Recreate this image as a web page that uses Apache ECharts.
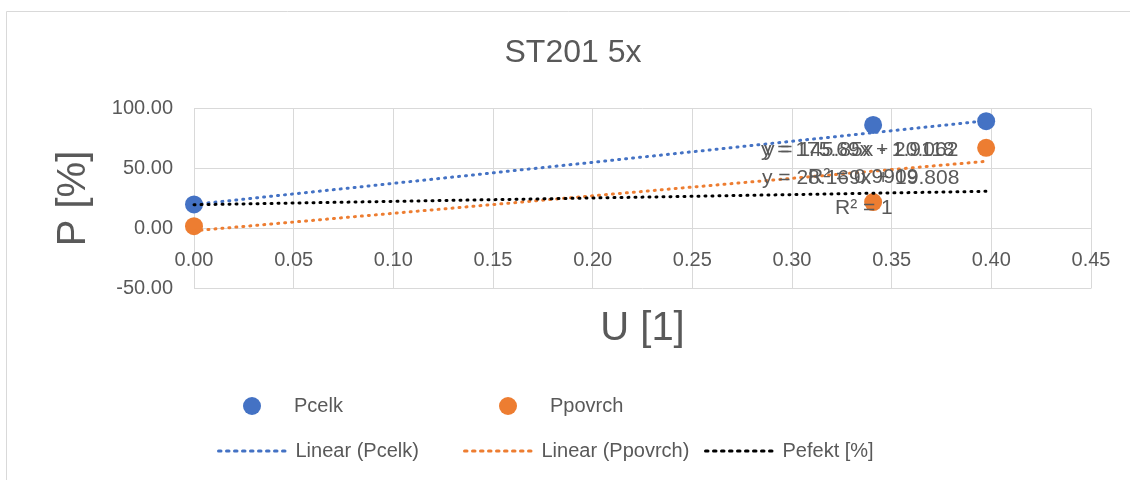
<!DOCTYPE html>
<html>
<head>
<meta charset="utf-8">
<script src="https://cdn.jsdelivr.net/npm/echarts@6/dist/echarts.min.js"></script>
<style>
html,body{margin:0;padding:0;background:#fff;}
#chart{width:1130px;height:480px;}
</style>
</head>
<body>
<div id="chart"></div>
<script>
// ---- data ----
const uValues = [0, 0.3407, 0.3974];
const pCelk = [20.1, 86.3, 89.4];
const pPovrch = [1.9, 22.0, 67.2];
const trendU = [0, 0.3974];
const trendCelk = [20.06, 89.8];
const trendPovrch = [-1.9, 56.0];
const pEfektU = [0, 0.3407, 0.3974];
const pEfekt = [19.8, 29.4, 31.0];
const trendLabels = [
  'y = 175.69x + 20.062',
  'y = 145.85x - 1.9118',
  'y = 28.169x + 19.808',
  'R² = 0.9909',
  'R² = 1'
];
const chartTitle = 'ST201 5x';
const xName = 'U [1]';
const yName = 'P [%]';

const FONT = '"Liberation Sans", Arial, sans-serif';
const TXT = '#595959';
const BLUE = '#4472C4';
const ORANGE = '#ED7D31';
const DOT = [1, 6];

function zip(a, b) { return a.map((v, i) => [v, b[i]]); }

const chart = echarts.init(document.getElementById('chart'));

const lineLegend = (name, left, color) => ({
  data: [name], left: left, top: 441, padding: 0,
  itemWidth: 72, itemHeight: 14, selectedMode: false,
  itemStyle: { opacity: 0, borderWidth: 0 },
  lineStyle: { color: color, width: 3, type: [2.5, 5.5], opacity: 1 },
  textStyle: { fontFamily: FONT, fontSize: 20, color: TXT }
});
const dotLegend = (name, left) => ({
  data: [name], left: left, top: 396, padding: 0,
  itemWidth: 18, itemHeight: 18, icon: 'circle', selectedMode: false,
  textStyle: { fontFamily: FONT, fontSize: 20, color: TXT, padding: [0, 0, 0, 28] }
});

chart.setOption({
  animation: false,
  backgroundColor: '#fff',
  title: {
    text: chartTitle, left: 573, top: 37, padding: 0, textAlign: 'center',
    textStyle: { fontFamily: FONT, fontSize: 32, fontWeight: 'normal', color: TXT }
  },
  grid: { left: 194, right: 39, top: 108.5, bottom: 191.5, containLabel: false },
  xAxis: {
    type: 'value', min: 0, max: 0.45, interval: 0.05,
    offset: -60,
    name: xName, nameLocation: 'middle', nameGap: 80,
    nameTextStyle: { fontFamily: FONT, fontSize: 40, color: TXT },
    axisLine: { onZero: false, lineStyle: { color: '#d9d9d9', width: 1 } },
    axisTick: { show: false },
    axisLabel: { fontFamily: FONT, fontSize: 20, color: TXT, margin: 22,
      formatter: v => v.toFixed(2) },
    splitLine: { show: true, lineStyle: { color: '#d9d9d9', width: 1 } }
  },
  yAxis: {
    type: 'value', min: -50, max: 100, interval: 50,
    name: yName, nameLocation: 'middle', nameGap: 100, nameRotate: 90,
    nameTextStyle: { fontFamily: FONT, fontSize: 40, color: TXT },
    axisLine: { show: true, onZero: false, lineStyle: { color: '#d9d9d9', width: 1 } },
    axisTick: { show: false },
    axisLabel: { fontFamily: FONT, fontSize: 20, color: TXT, margin: 21,
      formatter: v => v.toFixed(2) },
    splitLine: { show: true, lineStyle: { color: '#d9d9d9', width: 1 } }
  },
  legend: [
    dotLegend('Pcelk', 243),
    dotLegend('Ppovrch', 499),
    lineLegend('Linear (Pcelk)', 217, BLUE),
    lineLegend('Linear (Ppovrch)', 463, ORANGE),
    lineLegend('Pefekt [%]', 704, '#000')
  ],
  series: [
    { name: 'Pcelk', type: 'scatter', data: zip(uValues, pCelk), symbol: 'circle',
      symbolSize: 18, itemStyle: { color: BLUE, opacity: 1 }, z: 2 },
    { name: 'Ppovrch', type: 'scatter', data: zip(uValues, pPovrch), symbol: 'circle',
      symbolSize: 18, itemStyle: { color: ORANGE, opacity: 1 }, z: 2 },
    { name: 'Linear (Pcelk)', type: 'line', data: zip(trendU, trendCelk), symbol: 'none',
      itemStyle: { color: BLUE },
      lineStyle: { color: BLUE, width: 3, type: DOT, cap: 'round' }, z: 3 },
    { name: 'Linear (Ppovrch)', type: 'line', data: zip(trendU, trendPovrch), symbol: 'none',
      itemStyle: { color: ORANGE },
      lineStyle: { color: ORANGE, width: 3, type: DOT, cap: 'round' }, z: 3 },
    { name: 'Pefekt [%]', type: 'line', data: zip(pEfektU, pEfekt), symbol: 'none',
      itemStyle: { color: '#000' },
      lineStyle: { color: '#000', width: 3, type: DOT, cap: 'round' }, z: 3 }
  ],
  graphic: [
    { type: 'rect', silent: true, z: -10,
      shape: { x: 6.5, y: 11.5, width: 1300, height: 700 },
      style: { fill: 'none', stroke: '#d9d9d9', lineWidth: 1 } },
    { type: 'text', x: 761, y: 150, z: 10,
      style: { text: trendLabels[0], font: '21px ' + FONT, fill: TXT, verticalAlign: 'middle' } },
    { type: 'text', x: 764, y: 150, z: 10,
      style: { text: trendLabels[1], font: '21px ' + FONT, fill: TXT, verticalAlign: 'middle' } },
    { type: 'text', x: 762, y: 178, z: 10,
      style: { text: trendLabels[2], font: '21px ' + FONT, fill: TXT, verticalAlign: 'middle' } },
    { type: 'text', x: 808, y: 177, z: 10,
      style: { text: trendLabels[3], font: '21px ' + FONT, fill: TXT, verticalAlign: 'middle' } },
    { type: 'text', x: 835, y: 208, z: 10,
      style: { text: trendLabels[4], font: '21px ' + FONT, fill: TXT, verticalAlign: 'middle' } }
  ]
});
</script>
</body>
</html>
